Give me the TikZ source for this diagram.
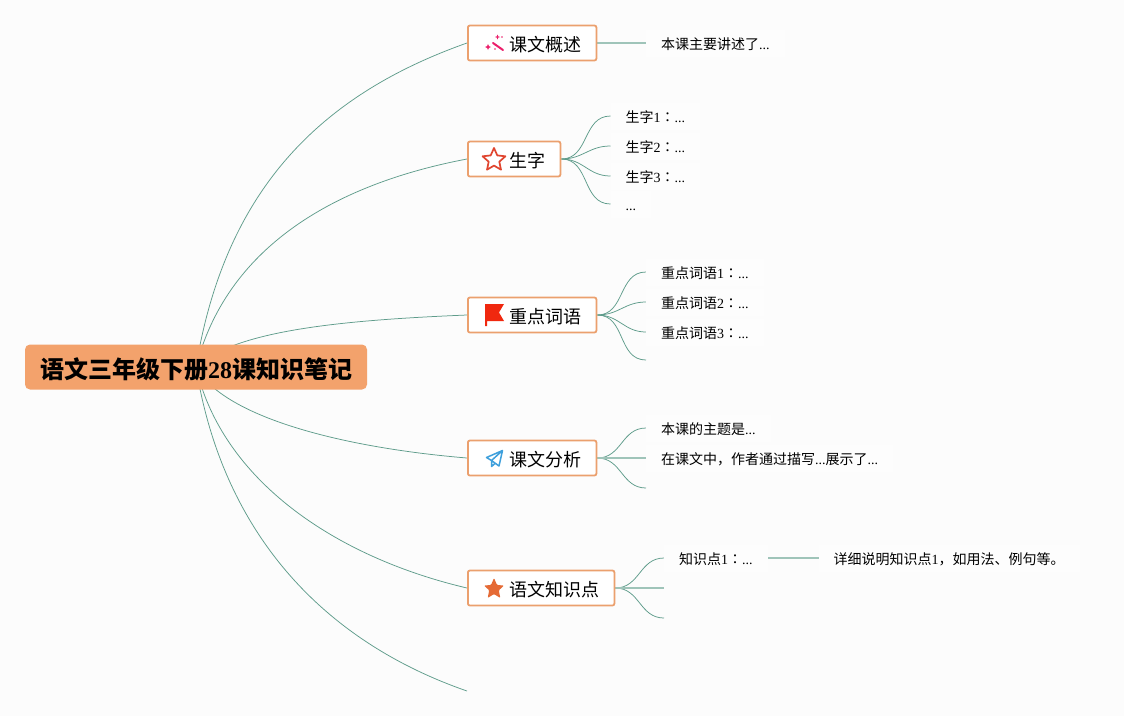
\documentclass[tikz,border=0pt]{standalone}
\usepackage{fontspec}
\setmainfont{Liberation Serif}
\newfontfamily\cjk{Noto Sans CJK SC}
\newfontfamily\cjktc{Noto Sans CJK TC}
\newcommand{\C}[1]{{\cjk #1}}
\newcommand{\CN}{{\cjktc ：}}
\usetikzlibrary{backgrounds}
\definecolor{bgc}{HTML}{FCFCFC}
\definecolor{orangeb}{HTML}{EBA06E}
\definecolor{rootf}{HTML}{F3A26C}
\definecolor{linkc}{HTML}{5F9C8B}
\definecolor{wandc}{HTML}{EC1F6B}
\definecolor{starc}{HTML}{E0452F}
\definecolor{flagc}{HTML}{F0280F}
\definecolor{planec}{HTML}{3FA0DC}
\definecolor{fstarc}{HTML}{E56A35}
\tikzset{
  x=1pt,y=-1pt,
  rootnode/.style={draw=none,fill=rootf,rounded corners=5pt,minimum width=342pt,minimum height=45pt,inner sep=0pt,text height=24pt,text depth=2pt,font=\bfseries\fontsize{24}{24}\selectfont,text=black},
  branch/.style={draw=orangeb,line width=1.8pt,fill=white,rounded corners=2pt,minimum height=35pt,inner xsep=14.5pt,inner ysep=0pt,text height=18.4pt,text depth=1pt,anchor=west,font=\fontsize{18}{18}\selectfont,text=black},
  leaf/.style={fill=white!20!bgc,inner xsep=15pt,inner ysep=6pt,text height=14pt,text depth=1pt,anchor=west,font=\fontsize{14}{14}\selectfont,text=black},
  link/.style={draw=linkc,line width=0.75pt},
  straightlink/.style={draw=linkc!60,line width=1.2pt},
  curvelink/.style={link,out=0,in=180,looseness=1.1},
}
\newcommand{\IC}{\hspace*{27.5pt}}
\begin{document}
\begin{tikzpicture}
\useasboundingbox (0,0) rectangle (1124,716);
\node[rootnode] (root) at (196,367) {\C{语文三年级下册}28\C{课知识笔记}};
\node[branch] (b1) at (467,43) {\IC\C{课文概述}};
\node[branch] (b2) at (467,159) {\IC\C{生字}};
\node[branch] (b3) at (467,315) {\IC\C{重点词语}};
\node[branch] (b4) at (467,458) {\IC\C{课文分析}};
\node[branch] (b5) at (467,588) {\IC\C{语文知识点}};
\coordinate (b6) at (467,691);
\node[leaf] (l1) at (646,43) {\C{本课主要讲述了}...};
\node[leaf] (s1) at (610.5,116) {\C{生字}1\CN...};
\node[leaf] (s2) at (610.5,146) {\C{生字}2\CN...};
\node[leaf] (s3) at (610.5,176) {\C{生字}3\CN...};
\node[leaf] (s4) at (610.5,204) {...};
\node[leaf] (k1) at (646,272) {\C{重点词语}1\CN...};
\node[leaf] (k2) at (646,302) {\C{重点词语}2\CN...};
\node[leaf] (k3) at (646,332) {\C{重点词语}3\CN...};
\coordinate (k4) at (646,360);
\node[leaf] (a1) at (646,428) {\C{本课的主题是}...};
\node[leaf] (a2) at (646,458) {\C{在课文中，作者通过描写}...\C{展示了}...};
\coordinate (a3) at (646,488);
\node[leaf] (z1) at (664,558) {\C{知识点}1\CN...};
\coordinate (z2) at (664,588);
\coordinate (z3) at (664,618);
\node[leaf] (z1a) at (818.5,558) {\C{详细说明知识点}1\C{，如用法、例句等。}};
% wand
\draw[wandc,line width=2pt,line cap=round] (493,43) -- (503,50);
\fill[wandc] (488,44) -- (488.9,46.1) -- (491,47) -- (488.9,47.9) -- (488,50) -- (487.1,47.9) -- (485,47) -- (487.1,46.1) -- cycle;
\fill[wandc] (497.5,34.5) -- (498.2,36.3) -- (500,37) -- (498.2,37.7) -- (497.5,39.5) -- (496.8,37.7) -- (495,37) -- (496.8,36.3) -- cycle;
\fill[wandc] (495,49) circle (0.9pt);
\fill[wandc] (502,37) circle (0.9pt);
% outline star
\draw[starc,line width=1.7pt,line join=round]
 (494,148) -- (497.3,155.4) -- (505.4,156.3) -- (499.3,161.7) -- (501,169.7) -- (494,165.6) -- (487,169.7) -- (488.7,161.7) -- (482.6,156.3) -- (490.7,155.4) -- cycle;
% flag
\fill[flagc]
 (485,304) -- (504,304) -- (499,312.5) -- (504,321) -- (487,321) -- (487,326) -- (485,326) -- cycle;
% plane
\draw[planec,line width=1.5pt,line join=round]
 (502.5,450.5) -- (486.5,457.5) -- (491.5,460.5) -- (502.5,450.5) -- (499,466) -- (491.5,460.5) -- (491.5,466.5) -- (495,463.5);
% filled star
\fill[fstarc,rounded corners=1pt]
 (494,578) -- (497,585) -- (504,585.5) -- (498.8,590.3) -- (500.3,598) -- (494,594) -- (487.7,598) -- (489.2,590.3) -- (484,585.5) -- (491,585) -- cycle;
\begin{scope}[on background layer]
\fill[bgc] (0,0) rectangle (1124,716);
\draw[link] (root.center) .. controls (225,190) and (320,95) .. (b1.west);
\draw[link] (root.center) .. controls (226,250) and (330,185) .. (b2.west);
\draw[link] (root.center) .. controls (235,330) and (345,320) .. (b3.west);
\draw[link] (root.center) .. controls (222,415) and (335,447) .. (b4.west);
\draw[link] (root.center) .. controls (222,480) and (335,557) .. (b5.west);
\draw[link] (root.center) .. controls (222,530) and (320,640) .. (b6);
\draw[straightlink] (b1.east) -- (l1.west);
\foreach \e in {s1,s2,s3,s4} \draw[curvelink] (b2.east) to (\e.west);
\foreach \e in {k1,k2,k3,k4} \draw[curvelink] (b3.east) to (\e);
\foreach \e in {a1,a3} \draw[curvelink] (b4.east) to (\e);
\draw[straightlink] (b4.east) -- (a2.west);
\foreach \e in {z1,z3} \draw[curvelink] (b5.east) to (\e);
\draw[straightlink] (b5.east) -- (z2);
\draw[straightlink] (z1.east) -- (z1a.west);
\end{scope}
\end{tikzpicture}
\end{document}
